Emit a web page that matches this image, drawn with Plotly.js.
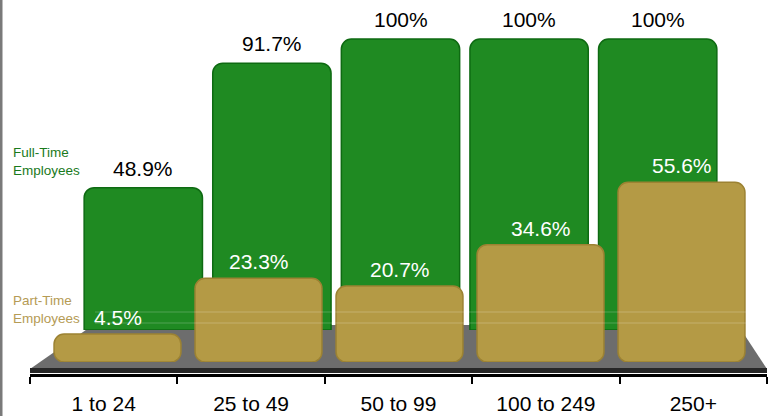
<!DOCTYPE html>
<html>
<head>
<meta charset="utf-8">
<script src="https://cdn.plot.ly/plotly-3.0.1.min.js"></script>
<style>html,body{margin:0;padding:0;background:#fff;}#chart{width:770px;height:416px;}</style>
</head>
<body>
<div id="chart"></div>
<script>
var categories = ["1 to 24", "25 to 49", "50 to 99", "100 to 249", "250+"];
var fullTime = [48.9, 91.7, 100, 100, 100];
var partTime = [4.5, 23.3, 20.7, 34.6, 55.6];
var seriesNames = ["Full-Time Employees", "Part-Time Employees"];

var W = 770, H = 416;
function px(x){ return x / W; }
function py(y){ return 1 - y / H; }

var FONT = "Liberation Sans, Arial, sans-serif";
var GREEN = "#1f8a22";
var GOLD = "#b49a45";
// front bars rest on a slab below zero (3D bar thickness)
var FRONT_BASE = -4.9;

var traces = [
  {
    type: "bar", name: seriesNames[0], x: categories, y: fullTime,
    xaxis: "x", yaxis: "y", width: 0.92,
    marker: {color: GREEN, line: {color: "#0e6a12", width: 1.5}, cornerradius: 10},
    hoverinfo: "x+y", showlegend: false
  },
  {
    type: "bar", name: seriesNames[1], x: categories,
    // bar spans from FRONT_BASE up to the data value
    base: FRONT_BASE, y: partTime.map(function(v){ return v - FRONT_BASE; }),
    hovertext: partTime.map(function(v){ return v + "%"; }), hoverinfo: "x+text",
    xaxis: "x2", yaxis: "y2", width: 0.9,
    marker: {color: GOLD, line: {color: "#9c8232", width: 1.5}, cornerradius: 10},
    showlegend: false
  },
  {
    type: "scatter", mode: "none", x: categories, y: fullTime,
    xaxis: "x3", yaxis: "y", hoverinfo: "skip", showlegend: false
  }
];

var annotations = [];
categories.forEach(function(c, i){
  annotations.push({
    xref: "x", yref: "y", x: c, y: fullTime[i], text: fullTime[i] + "%",
    showarrow: false, yanchor: "bottom", yshift: 6,
    font: {family: FONT, size: 21, color: "#000"}
  });
  annotations.push({
    xref: "x2", yref: "y2", x: c, y: partTime[i], text: partTime[i] + "%",
    showarrow: false, yanchor: "bottom", yshift: 3,
    font: {family: FONT, size: 21, color: "#fff"}
  });
});
annotations.push({
  xref: "paper", yref: "paper", x: px(11), y: py(162), xanchor: "left", yanchor: "middle",
  align: "left", showarrow: false, text: "Full-Time<br>Employees",
  font: {family: FONT, size: 13.5, color: "#1a7a1c"}
});
annotations.push({
  xref: "paper", yref: "paper", x: px(11), y: py(309), xanchor: "left", yanchor: "middle",
  align: "left", showarrow: false, text: "Part-Time<br>Employees",
  font: {family: FONT, size: 13.5, color: "#b59b55"}
});

var shapes = [
  // floor top
  {type: "path", xref: "paper", yref: "paper", layer: "below",
   path: "M " + px(30) + "," + py(369) + " L " + px(93) + "," + py(325) + " L " + px(738) + "," + py(325) + " L " + px(767) + "," + py(369) + " Z",
   fillcolor: "#6d6d6d", line: {width: 0}},
  // floor front face
  {type: "rect", xref: "paper", yref: "paper", layer: "below",
   x0: px(30), x1: px(767), y0: py(373), y1: py(368),
   fillcolor: "#262626", line: {width: 0}},
  // left border
  {type: "rect", xref: "paper", yref: "paper", layer: "above",
   x0: 0, x1: px(2.5), y0: 0, y1: 1, fillcolor: "#7a7a7a", line: {width: 0}},
  // faint gridlines
  {type: "line", xref: "paper", yref: "paper", layer: "above",
   x0: px(95), x1: 1, y0: py(312), y1: py(312), line: {color: "rgba(255,255,255,0.22)", width: 1}},
  {type: "line", xref: "paper", yref: "paper", layer: "above",
   x0: px(95), x1: 1, y0: py(323), y1: py(323), line: {color: "rgba(255,255,255,0.22)", width: 1}}
];

var layout = {
  width: W, height: H,
  margin: {l: 0, r: 0, t: 0, b: 0},
  paper_bgcolor: "#fff", plot_bgcolor: "rgba(0,0,0,0)",
  showlegend: false,
  xaxis: {domain: [px(79), px(722)], range: [-0.5, 4.5], type: "category",
          visible: false, fixedrange: true},
  yaxis: {domain: [py(330), 1], range: [0, 113.4], visible: false, fixedrange: true},
  xaxis2: {domain: [px(47), px(752)], range: [-0.5, 4.5], type: "category",
           anchor: "y2", visible: false, fixedrange: true},
  yaxis2: {domain: [py(362), 1], range: [FRONT_BASE, 117], anchor: "x2", visible: false, fixedrange: true},
  xaxis3: {domain: [px(30), px(767)], range: [-0.5, 4.5], type: "category",
           anchor: "free", position: py(374.5), showline: true, linecolor: "#000", linewidth: 3,
           ticks: "outside", ticklen: 7, tickwidth: 2, tickcolor: "#000", tickson: "boundaries",
           ticklabelstandoff: 9, showgrid: false, zeroline: false, fixedrange: true,
           tickfont: {family: FONT, size: 21, color: "#000"}},
  annotations: annotations,
  shapes: shapes
};

Plotly.newPlot("chart", traces, layout, {displayModeBar: false, staticPlot: true});
</script>
</body>
</html>
